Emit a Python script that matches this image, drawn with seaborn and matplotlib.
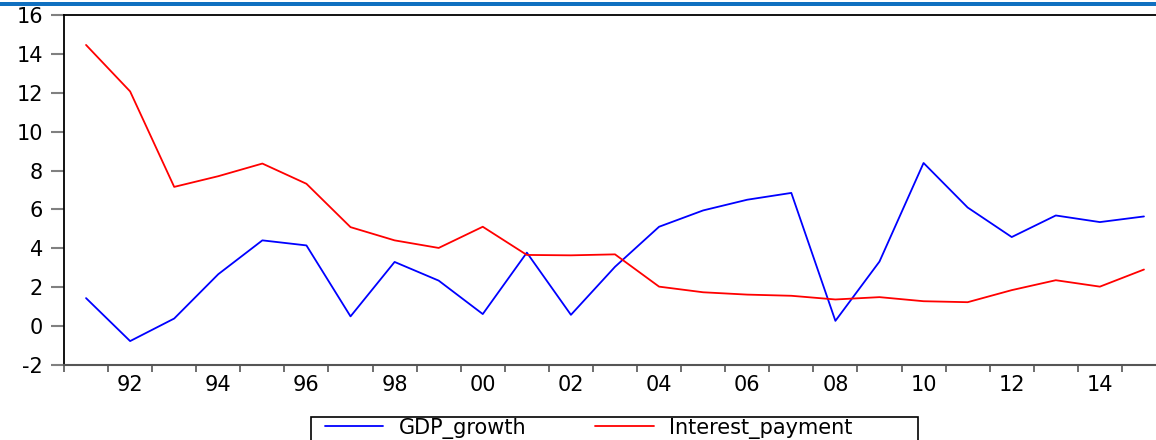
import numpy as np
import pandas as pd
import matplotlib
matplotlib.use("Agg")
import matplotlib.pyplot as plt
from matplotlib.patches import Rectangle
import seaborn as sns

years = list(range(1991, 2016))
gdp_growth = [1.44, -0.77, 0.39, 2.67, 4.41, 4.15, 0.50, 3.30, 2.34, 0.62, 3.78, 0.58, 3.05,
              5.11, 5.95, 6.50, 6.85, 0.27, 3.32, 8.39, 6.10, 4.58, 5.69, 5.35, 5.64]
interest_payment = [14.46, 12.07, 7.16, 7.71, 8.36, 7.32, 5.09, 4.41, 4.02, 5.11, 3.66, 3.64, 3.69,
                    2.03, 1.74, 1.62, 1.56, 1.37, 1.49, 1.28, 1.23, 1.85, 2.36, 2.03, 2.91]
series_names = ["GDP_growth", "Interest_payment"]
label_years = list(range(1992, 2015, 2))
x_tick_labels = ["92", "94", "96", "98", "00", "02", "04", "06", "08", "10", "12", "14"]
y_ticks = list(range(-2, 17, 2))

sns.set_style("white")
plt.rcParams["font.family"] = ["DejaVu Sans"]
plt.rcParams["text.color"] = "black"
plt.rcParams["legend.labelcolor"] = "black"

df = pd.DataFrame({
    "x": np.array(years * 2, dtype=float) + 0.5,
    "value": gdp_growth + interest_payment,
    "series": [series_names[0]] * len(years) + [series_names[1]] * len(years),
})

W, H = 1156, 440
fig = plt.figure(figsize=(W / 100, H / 100), dpi=100)
ax = fig.add_axes([64 / W, 75 / H, 1102 / W, 350 / H])

sns.lineplot(data=df, x="x", y="value", hue="series", palette=["#0000ff", "#ff0000"],
             linewidth=1.3, ax=ax, legend=True)

ax.set_xlim(years[0], years[-1] + 1)
ax.set_ylim(-2, 16)
ax.set_xlabel("")
ax.set_ylabel("")

# y axis
ax.set_yticks(y_ticks)
ax.set_yticklabels([str(v) for v in y_ticks])
ax.tick_params(axis="y", which="major", direction="out", length=9.5, width=1.5,
               color="#808080", pad=5.5, labelsize=15, labelcolor="black", left=True)

# x axis: ticks at year boundaries, labels at the middle of even years
ax.set_xticks(list(range(years[0], years[-1] + 2)))
ax.set_xticklabels([])
ax.set_xticks([y + 0.5 for y in label_years], minor=True)
ax.set_xticklabels(x_tick_labels, minor=True)
ax.tick_params(axis="x", which="major", direction="out", length=5, width=1.2,
               color="#555555", bottom=True)
ax.tick_params(axis="x", which="minor", length=0, pad=7, labelsize=15, labelcolor="black", bottom=True)

for side in ["left", "top"]:
    ax.spines[side].set_color("black")
    ax.spines[side].set_linewidth(1.3)
ax.spines["bottom"].set_color("#555555")
ax.spines["bottom"].set_linewidth(1.5)
ax.spines["right"].set_visible(False)
ax.grid(False)

handles, labels = ax.get_legend_handles_labels()
ax.get_legend().remove()
leg = fig.legend(handles, labels, loc="center left",
                 bbox_to_anchor=(325 / W, 1 - 428 / H),
                 ncol=2, frameon=False, fontsize=15, labelcolor="black",
                 handlelength=2.8, handletextpad=0.75, columnspacing=3.3,
                 borderpad=0, borderaxespad=0)
for line in leg.get_lines():
    line.set_linewidth(1.3)

# legend box (extends below the visible picture, as in the reference)
fig.add_artist(Rectangle((311 / W, -12 / H), 607 / W, (H - 417 + 12) / H,
                         transform=fig.transFigure, facecolor="none",
                         edgecolor="black", linewidth=1.2))

# window title bar stripe at the top
fig.add_artist(Rectangle((0, 1 - 6 / H), 1, 4 / H, transform=fig.transFigure,
                         facecolor="#1070c0", edgecolor="none"))

fig.savefig("out.png", dpi=100)
